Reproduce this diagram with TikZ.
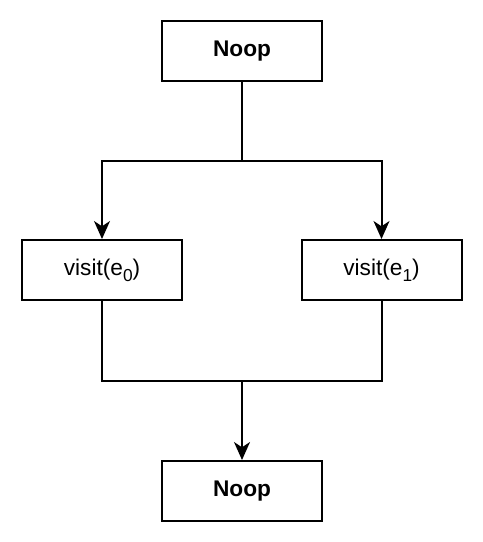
\documentclass[tikz,border=0pt]{standalone}
\usepackage{fontspec}
\setmainfont{Liberation Sans}
\usetikzlibrary{arrows.meta}
\newcommand{\sbs}[1]{\raisebox{-0.5ex}{\fontsize{13}{13}\selectfont #1}}
\begin{document}
\begin{tikzpicture}[x=0.75pt,y=-0.75pt,
  box/.style={draw,line width=1.5pt,minimum width=120pt,minimum height=45pt,inner sep=0pt,font=\fontsize{17}{19}\selectfont},
  conn/.style={line width=1.5pt},
  arr/.style={conn,-{Stealth[length=13.5pt,width=12pt,inset=4pt]}}]
\useasboundingbox (0,0) rectangle (482,542);
\node[box,font=\fontsize{17}{19}\selectfont\bfseries] (top) at (242,51) {Noop};
\node[box] (l) at (102,270) {visit(e\sbs{0})};
\node[box] (r) at (381.5,270) {visit(e\sbs{1})};
\node[box,font=\fontsize{17}{19}\selectfont\bfseries] (bot) at (242,491) {Noop};
\coordinate (s) at (242,161);
\coordinate (j) at (242,381);
\draw[conn] (top.south) -- (s);
\draw[arr] (s) -| (l.north);
\draw[arr] (s) -| (r.north);
\draw[conn] (l.south) |- (j);
\draw[conn] (r.south) |- (j);
\draw[arr] (j) -- (bot.north);
\end{tikzpicture}
\end{document}
